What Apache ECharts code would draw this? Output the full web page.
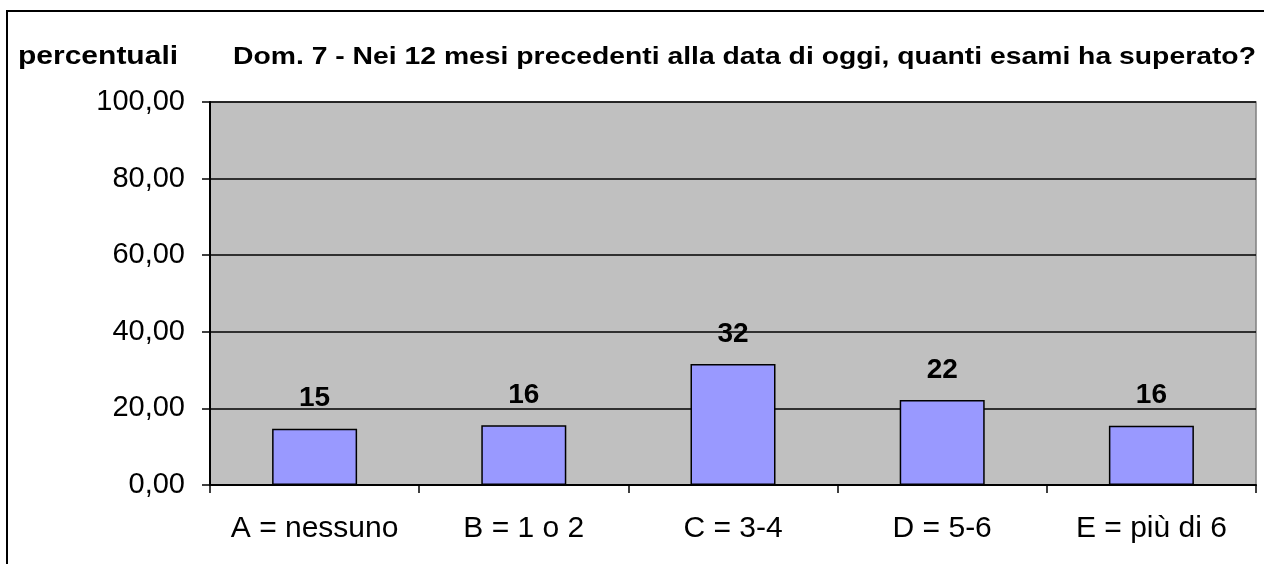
<!DOCTYPE html>
<html lang="it">
<head>
    <meta charset="UTF-8">
    <title>Dom. 7</title>
    <script src="https://cdn.jsdelivr.net/npm/echarts@6/dist/echarts.min.js"></script>
    <style>
        body { margin: 0; padding: 0; background: #fff; }
        #chart { width: 1264px; height: 564px; }
    </style>
</head>
<body>
<div id="chart"></div>
<script>
// dati
const categorie = ['A = nessuno', 'B = 1 o 2', 'C = 3-4', 'D = 5-6', 'E = più di 6'];
const percentuali = [14.7, 15.6, 31.6, 22.2, 15.5];
const etichette = ['15', '16', '32', '22', '16'];

const chart = echarts.init(document.getElementById('chart'));
const font = 'Liberation Sans, Arial, sans-serif';

chart.setOption({
    animation: false,
    graphic: [{
        type: 'rect',
        shape: { x: 7, y: 11, width: 1400, height: 700 },
        style: { fill: 'none', stroke: '#000', lineWidth: 2 }
    }, {
        type: 'rect',
        z: -1,
        shape: { x: 210, y: 102, width: 1046, height: 383 },
        style: { fill: '#c0c0c0', stroke: '#808080', lineWidth: 1.5 }
    }, {
        type: 'text',
        x: 18, y: 57,
        scaleX: 1.2,
        style: { text: 'percentuali', font: 'bold 25px ' + font, fill: '#000', textVerticalAlign: 'middle' }
    }, {
        type: 'text',
        x: 233, y: 57,
        scaleX: 1.18,
        style: { text: 'Dom. 7 - Nei 12 mesi precedenti alla data di oggi, quanti esami ha superato?', font: 'bold 24px ' + font, fill: '#000', textVerticalAlign: 'middle' }
    }],
    grid: { left: 210, top: 102, width: 1046, height: 383, containLabel: false },
    xAxis: {
        type: 'category',
        data: categorie,
        boundaryGap: true,
        axisLine: { lineStyle: { color: '#000', width: 2 } },
        axisTick: { show: true, interval: 0, alignWithLabel: false, length: 8, lineStyle: { color: '#000', width: 1.5 } },
        axisLabel: { interval: 0, hideOverlap: false, color: '#000', fontSize: 30, fontFamily: font, margin: 29 }
    },
    yAxis: {
        type: 'value',
        min: 0, max: 100, interval: 20,
        axisLine: { show: true, lineStyle: { color: '#000', width: 2 } },
        axisTick: { show: true, length: 8, lineStyle: { color: '#000', width: 1.5 } },
        axisLabel: {
            color: '#000', fontSize: 29, fontFamily: font, margin: 25,
            formatter: v => v.toFixed(2).replace('.', ',')
        },
        splitLine: { lineStyle: { color: '#000', width: 1.5 } }
    },
    series: [{
        type: 'bar',
        data: percentuali,
        barWidth: 85,
        itemStyle: { color: '#9999ff', borderColor: '#000', borderWidth: 1.5 },
        label: {
            show: true,
            position: 'top',
            distance: 16,
            color: '#000',
            fontSize: 28,
            fontWeight: 'bold',
            fontFamily: font,
            formatter: p => etichette[p.dataIndex]
        }
    }]
});
</script>
</body>
</html>
